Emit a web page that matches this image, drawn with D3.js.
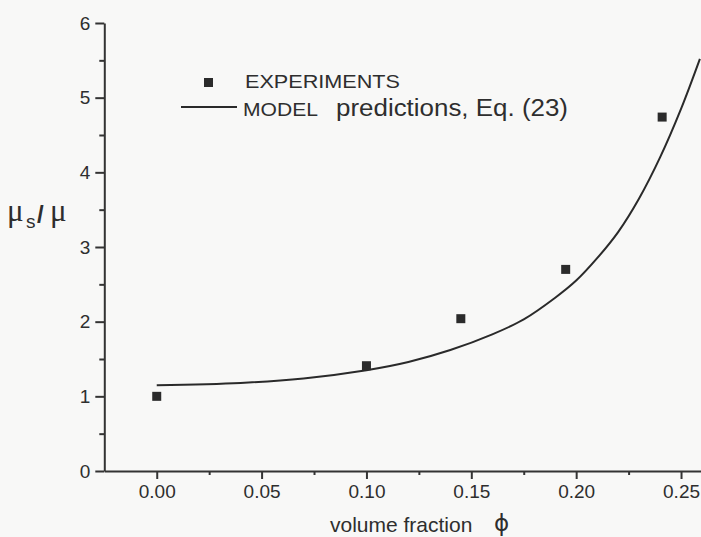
<html lang='en'>
    <head>
        <meta charset='utf-8'>
        <title>Viscosity vs volume fraction</title>
        <script src="https://cdn.jsdelivr.net/npm/d3@7"></script>
        <style>
            body { margin: 0; background: #f8f8f7; }
            text { font-family: "Liberation Sans", Arial, sans-serif; fill: #2e2e2e; }
        </style>
    </head>
    <body>
        <script>
            var width = 701;
            var height = 537;

            //experimental points
            var expPhi = [0.00, 0.10, 0.145, 0.195, 0.241];
            var expMu  = [1.00, 1.41, 2.04, 2.70, 4.74];

            //model curve, Eq. (23)
            var modelPhi = [0, 0.04, 0.07, 0.10, 0.12, 0.14, 0.16, 0.175, 0.19, 0.20, 0.21, 0.22, 0.23, 0.24, 0.25, 0.259];
            var modelMu  = [1.15, 1.18, 1.24, 1.35, 1.46, 1.62, 1.83, 2.03, 2.32, 2.55, 2.85, 3.20, 3.65, 4.20, 4.85, 5.52];

            //ticks
            var xTicks = [0, 0.05, 0.10, 0.15, 0.20, 0.25];
            var xMinor = [0.025, 0.075, 0.125, 0.175, 0.225];
            var yTicks = [0, 1, 2, 3, 4, 5, 6];
            var yMinor = [0.5, 1.5, 2.5, 3.5, 4.5, 5.5];

            var x = d3.scaleLinear().domain([-0.025, 0.26]).range([104.3, 702]);
            var y = d3.scaleLinear().domain([0, 6]).range([471, 23]);

            var svg = d3.select('body')
                        .append('svg')
                        .attr('width', width)
                        .attr('height', height);

            //minor ticks first, then the major axis on top
            svg.append('g')
               .attr('transform', 'translate(0,' + y(0) + ')')
               .call(d3.axisBottom(x).tickValues(xMinor).tickSize(4).tickFormat(''))
               .call(function(g){ g.select('.domain').remove(); });
            svg.append('g')
               .attr('transform', 'translate(' + x(-0.025) + ',0)')
               .call(d3.axisLeft(y).tickValues(yMinor).tickSize(5).tickFormat(''))
               .call(function(g){ g.select('.domain').remove(); });

            svg.append('g')
               .attr('transform', 'translate(0,' + y(0) + ')')
               .call(d3.axisBottom(x).tickValues(xTicks).tickSize(8).tickSizeOuter(0).tickPadding(6).tickFormat(d3.format('.2f')));
            svg.append('g')
               .attr('transform', 'translate(' + x(-0.025) + ',0)')
               .call(d3.axisLeft(y).tickValues(yTicks).tickSize(9).tickSizeOuter(0).tickPadding(5).tickFormat(d3.format('d')));

            svg.selectAll('.domain').attr('stroke', '#333').attr('stroke-width', 2);
            svg.selectAll('.tick line').attr('stroke', '#333').attr('stroke-width', 2);
            svg.selectAll('g').attr('font-size', null).attr('font-family', null);
            svg.selectAll('.tick text')
               .style('font-family', '"Liberation Sans", Arial, sans-serif')
               .style('font-size', '19px')
               .attr('fill', '#3a3a3a');

            //model line
            var modelData = modelPhi.map(function(p, i){ return [p, modelMu[i]]; });
            var line = d3.line()
                         .x(function(d){ return x(d[0]); })
                         .y(function(d){ return y(d[1]); })
                         .curve(d3.curveCatmullRom.alpha(0.5));
            svg.append('path')
               .datum(modelData)
               .attr('d', line)
               .attr('fill', 'none')
               .attr('stroke', '#2a2a2a')
               .attr('stroke-width', 2);

            //experiment squares
            var s = 9;
            svg.selectAll('rect.exp')
               .data(expPhi)
               .enter()
               .append('rect')
               .attr('class', 'exp')
               .attr('x', function(d){ return x(d) - s / 2; })
               .attr('y', function(d, i){ return y(expMu[i]) - s / 2; })
               .attr('width', s)
               .attr('height', s)
               .attr('fill', '#2b2b2b');

            //legend
            svg.append('rect')
               .attr('x', 204).attr('y', 78)
               .attr('width', s).attr('height', s)
               .attr('fill', '#2b2b2b');
            svg.append('text')
               .attr('x', 245).attr('y', 88)
               .attr('textLength', 155).attr('lengthAdjust', 'spacingAndGlyphs')
               .style('font-size', '19px')
               .text('EXPERIMENTS');
            svg.append('line')
               .attr('x1', 181).attr('x2', 237)
               .attr('y1', 107).attr('y2', 107)
               .attr('stroke', '#2a2a2a').attr('stroke-width', 2);
            svg.append('text')
               .attr('x', 243).attr('y', 116)
               .attr('textLength', 75).attr('lengthAdjust', 'spacingAndGlyphs')
               .style('font-size', '19px')
               .text('MODEL');
            svg.append('text')
               .attr('x', 336).attr('y', 116)
               .attr('textLength', 232).attr('lengthAdjust', 'spacingAndGlyphs')
               .style('font-size', '23px')
               .text('predictions, Eq. (23)');

            //axis titles
            var xl = svg.append('text')
               .attr('x', 330).attr('y', 532)
               .style('font-size', '21px');
            xl.append('tspan').text('volume fraction ');
            xl.append('tspan')
              .attr('x', 494).attr('y', 531)
              .style('font-family', '"DejaVu Sans", sans-serif')
              .style('font-size', '23px')
              .text('ϕ');

            var yl = svg.append('text')
               .attr('y', 221)
               .style('font-family', '"Liberation Serif", "DejaVu Serif", serif')
               .style('font-size', '31px');
            yl.append('tspan').attr('x', 7).text('μ');
            yl.append('tspan').attr('x', 26).attr('y', 228)
              .style('font-family', '"Liberation Sans", Arial, sans-serif')
              .style('font-size', '19px').text('s');
            yl.append('tspan').attr('x', 37).attr('y', 223)
              .style('font-family', '"Liberation Sans", Arial, sans-serif')
              .style('font-size', '24px').style('font-weight', 'bold').text('/');
            yl.append('tspan').attr('x', 50).attr('y', 221).text('μ');
        </script>
    </body>
</html>
